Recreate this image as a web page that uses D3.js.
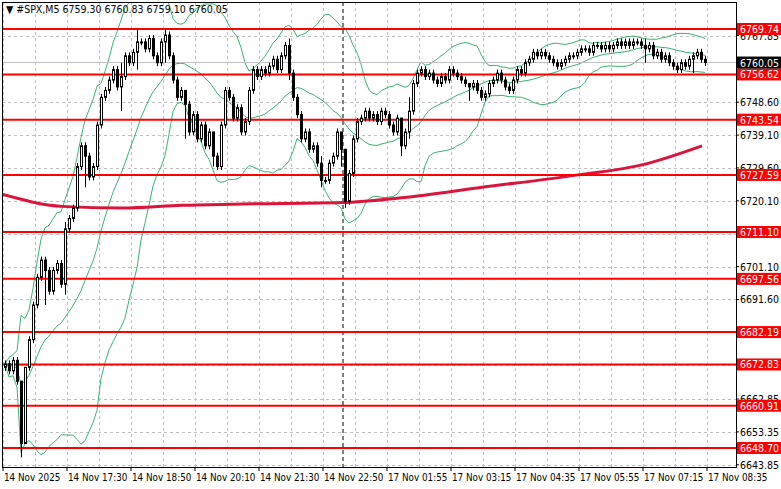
<!DOCTYPE html>
<html>
<head>
<meta charset="utf-8">
<script src="https://cdn.jsdelivr.net/npm/d3@7"></script>
<style>
body { margin: 0; background: #fff; }
text { font-family: "DejaVu Sans Condensed", "Liberation Sans", sans-serif; font-size: 10.5px; }
text.time { font-size: 9.8px; }
</style>
</head>
<body>
<svg width="781" height="489"></svg>
<script>
// closes of M5 bars
var closes = [
  6673,6671,6674,6668,6650,6672,6680,6690,6698,6703,6700,6694,6700,6702,6696,6712,
  6715,6718,6730,6736,6733,6727,6730,6742,6750,6752,6755,6758,6753,6756,6762,6760,
  6763,6766,6766,6764,6767,6762,6760,6766,6768,6762,6755,6750,6752,6748,6740,6745,
  6738,6742,6736,6740,6733,6730,6742,6752,6750,6744,6747,6740,6743,6752,6758,6756,
  6758,6757,6759,6761,6758,6762,6765,6757,6750,6745,6738,6740,6735,6736,6731,6726,
  6726,6731,6733,6740,6735,6720,6728,6738,6743,6744,6746,6744,6745,6743,6746,6745,
  6742,6740,6744,6736,6740,6746,6754,6757,6758,6756,6757,6755,6754,6756,6755,6758,
  6757,6756,6755,6754,6753,6754,6752,6750,6751,6754,6755,6757,6755,6753,6752,6755,
  6758,6757,6760,6761,6763,6762,6763,6762,6761,6760,6759,6760,6761,6762,6762,6763,
  6764,6764,6763,6765,6765,6764,6765,6764,6765,6766,6765,6766,6765,6766,6766,6765,
  6764,6765,6762,6763,6761,6762,6760,6759,6758,6760,6759,6761,6762,6763,6761,6760.05
];
var firstOpen = 6672;
// notable wicks: [bar, high, low]
var wicks = [[4,6668,6646],[5,6672,6650],[10,6704,6690],[15,6714,6693],[20,6737,6724],
  [29,6760,6746],[33,6770,6758],[40,6770,6760],[45,6752,6738],[52,6736,6730],
  [71,6767,6755],[79,6733,6724],[84,6738,6730],[85,6735,6718],[99,6737,6733],
  [101,6750,6738],[116,6754,6749],[160,6767,6760],[172,6763,6757]];
var maBars = [0,15,30,45,60,85,100,120,144,160,175];
var maVals = [6722,6718.5,6718,6718.8,6719.2,6719.6,6721,6724,6727.6,6730.5,6736];
var levels = [6769.74,6756.62,6743.54,6727.59,6711.10,6697.56,6682.19,6672.83,6660.91,6648.70];
var priceTicks = [6767.85,6748.60,6739.10,6729.60,6720.10,6710.60,6701.10,6691.60,6682.10,6672.60,6662.85,6653.35,6643.85];
var timeLabels = ["14 Nov 2025","14 Nov 17:30","14 Nov 18:50","14 Nov 20:10","14 Nov 21:30","14 Nov 22:50",
  "17 Nov 01:55","17 Nov 03:15","17 Nov 04:35","17 Nov 05:55","17 Nov 07:15","17 Nov 08:35"];
var lastPrice = 6760.05;
var sessionBreakBar = 84.5;

var svg = d3.select("svg"),
    pl = 2, pr = 736, pt = 2, pb = 467;

var x = d3.scaleLinear().domain([0, 175]).range([5, 705]);
var y = d3.scaleLinear().domain([6648.70, 6769.74]).range([448, 29]);

var bars = closes.map(function(c, i) {
  var o = i ? closes[i - 1] : firstOpen;
  return {i: i, o: o, c: c, h: Math.max(o, c) + 1, l: Math.min(o, c) - 1};
});
wicks.forEach(function(w) { bars[w[0]].h = w[1]; bars[w[0]].l = w[2]; });

svg.append("defs").append("clipPath").attr("id", "clip")
  .append("rect").attr("x", pl).attr("y", pt).attr("width", pr - pl).attr("height", pb - pt);
var g = svg.append("g").attr("clip-path", "url(#clip)");

// grid
priceTicks.forEach(function(p) {
  var gy = Math.round(y(p)) + 0.5;
  g.append("line").attr("x1", pl).attr("x2", pr).attr("y1", gy).attr("y2", gy)
    .attr("stroke", "#c0c0c0").attr("stroke-dasharray", "3,3");
});
for (var b = 0; b <= 176; b += 8) {
  var gx = Math.round(x(b)) - 1.5;
  g.append("line").attr("x1", gx).attr("x2", gx).attr("y1", pt).attr("y2", pb)
    .attr("stroke", "#c0c0c0").attr("stroke-dasharray", "3,3");
}
g.append("line").attr("x1", x(sessionBreakBar)).attr("x2", x(sessionBreakBar)).attr("y1", pt).attr("y2", pb)
  .attr("stroke", "#000").attr("stroke-dasharray", "4,3");

// bollinger 20,2
var bb = closes.map(function(c, i) {
  var win = closes.slice(Math.max(0, i - 19), i + 1);
  var m = d3.mean(win), s = d3.deviation(win) || 0;
  return {i: i, m: m, u: m + 2 * s, d: m - 2 * s};
});
["m", "u", "d"].forEach(function(k) {
  g.append("path").datum(bb).attr("fill", "none").attr("stroke", "#3cb371").attr("stroke-width", 1)
    .attr("d", d3.line().x(function(d) { return x(d.i); }).y(function(d) { return y(d[k]); }));
});

// moving average
g.append("path").datum(maBars.map(function(b, i) { return [b, maVals[i]]; }))
  .attr("fill", "none").attr("stroke", "#dc143c").attr("stroke-width", 3)
  .attr("d", d3.line().curve(d3.curveMonotoneX).x(function(d) { return x(d[0]) - 3; }).y(function(d) { return y(d[1]); }));

// current price line
g.append("line").attr("x1", pl).attr("x2", pr).attr("y1", y(lastPrice)).attr("y2", y(lastPrice)).attr("stroke", "#c0c0c0");

// levels
levels.forEach(function(p) {
  g.append("line").attr("x1", pl).attr("x2", pr).attr("y1", y(p)).attr("y2", y(p)).attr("stroke", "#ff0000").attr("stroke-width", 2);
});

// candles
var cg = g.selectAll(".bar").data(bars).enter().append("g");
cg.append("line").attr("x1", function(d) { return Math.round(x(d.i)) + 0.5; }).attr("x2", function(d) { return Math.round(x(d.i)) + 0.5; })
  .attr("y1", function(d) { return y(d.h); }).attr("y2", function(d) { return y(d.l); }).attr("stroke", "#000");
cg.append("rect").attr("x", function(d) { return Math.round(x(d.i)) - 0.5; }).attr("width", 2)
  .attr("y", function(d) { return y(Math.max(d.o, d.c)); })
  .attr("height", function(d) { return Math.max(1, y(Math.min(d.o, d.c)) - y(Math.max(d.o, d.c))); })
  .attr("fill", function(d) { return d.c >= d.o ? "#fff" : "#000"; }).attr("stroke", "#000").attr("stroke-width", 1);

// frame
svg.append("rect").attr("x", pl + 0.5).attr("y", pt + 0.5).attr("width", pr - pl).attr("height", pb - pt)
  .attr("fill", "none").attr("stroke", "#000");

// price axis
priceTicks.forEach(function(p) {
  svg.append("line").attr("x1", pr).attr("x2", pr + 3).attr("y1", y(p)).attr("y2", y(p)).attr("stroke", "#000");
  svg.append("text").attr("x", pr + 4).attr("y", y(p) + 4).text(p.toFixed(2));
});
function tag(p, bg) {
  svg.append("rect").attr("x", pr + 1).attr("y", y(p) - 6).attr("width", 44).attr("height", 12).attr("fill", bg);
  svg.append("text").attr("x", pr + 4).attr("y", y(p) + 4).attr("fill", "#fff").text(p.toFixed(2));
}
levels.forEach(function(p) { tag(p, "#ff0000"); });
tag(lastPrice, "#000");

// time axis
timeLabels.forEach(function(t, i) {
  var tx = Math.round(x(i * 16)) - 2;
  svg.append("line").attr("x1", tx).attr("x2", tx).attr("y1", pb).attr("y2", pb + 4).attr("stroke", "#000");
  svg.append("text").attr("class", "time").attr("x", tx + 1).attr("y", pb + 14).text(t);
});

svg.append("text").attr("x", 6).attr("y", 13)
  .text("\u25BC #SPX,M5  6759.30 6760.83 6759.10 6760.05");
</script>
</body>
</html>
